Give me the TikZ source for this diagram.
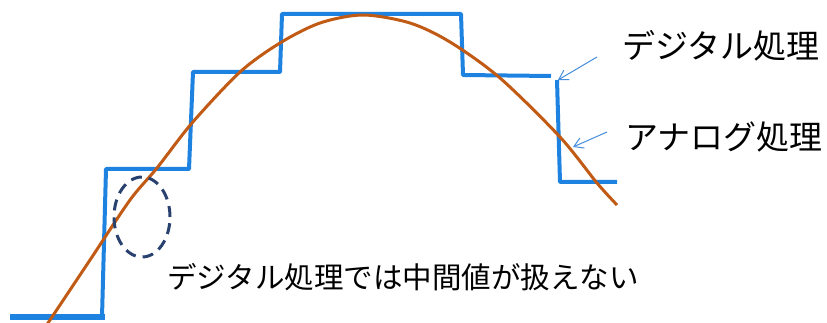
\documentclass[tikz,border=0pt]{standalone}
\usepackage{fontspec}
\newfontfamily\jpfont{Noto Sans CJK JP}
\usetikzlibrary{arrows.meta,shapes.geometric}
\definecolor{stairblue}{RGB}{30,130,225}
\definecolor{curveorange}{RGB}{192,90,20}
\definecolor{ellblue}{RGB}{40,65,110}
\definecolor{arrblue}{RGB}{70,140,220}
\tikzset{
  stair/.style={draw=stairblue,line width=4pt,line join=round},
  analog/.style={draw=curveorange,line width=3pt},
  lbl/.style={inner sep=0pt,font=\jpfont\fontsize{33}{36}\selectfont,anchor=west},
  note/.style={inner sep=0pt,font=\jpfont\fontsize{29.5}{32}\selectfont,anchor=west},
  pointer/.style={draw=arrblue,line width=1pt,-{Straight Barb[length=9pt,width=11pt]}},
  dashell/.style={draw=ellblue,line width=3pt,dash pattern=on 11pt off 7pt}
}
\begin{document}
\begin{tikzpicture}[x=1pt,y=-1pt]
\useasboundingbox (0,0) rectangle (827,323);
\begin{scope}
\clip (0,0) rectangle (827,323);
% digital staircase
\draw[stair,line width=6pt] (10,317) -- (105,317);
\draw[stair] (102,317) -- (106,169) -- (189,169) -- (193,72) -- (280,72) -- (282,14) -- (461,14) -- (463,75) -- (551,76);
\draw[stair] (557,80) -- (560,182) -- (617,182);
% analog curve
\draw[analog] plot[smooth] coordinates {(44,329) (90,260) (130,200) (157,168) (192,123) (240,72) (280,43) (320,23) (363,15) (410,23) (450,42) (500,78) (560,137) (597,183) (617,205)};
\end{scope}
% dashed ellipse
\node[dashell,ellipse,minimum width=56pt,minimum height=80pt,inner sep=0pt] (ell) at (142,217) {};
% labels
\node[lbl] (dig) at (622,46) {デジタル処理};
\node[lbl] (ana) at (625,137) {アナログ処理};
\node[note] (nt) at (167,277) {デジタル処理では中間値が扱えない};
\coordinate (digtip) at (558,80);
\coordinate (anatip) at (573,147);
\draw[pointer] ([xshift=-25pt,yshift=-11pt]dig.west) -- (digtip);
\draw[pointer] ([xshift=-18pt,yshift=5pt]ana.west) -- (anatip);
\end{tikzpicture}
\end{document}
